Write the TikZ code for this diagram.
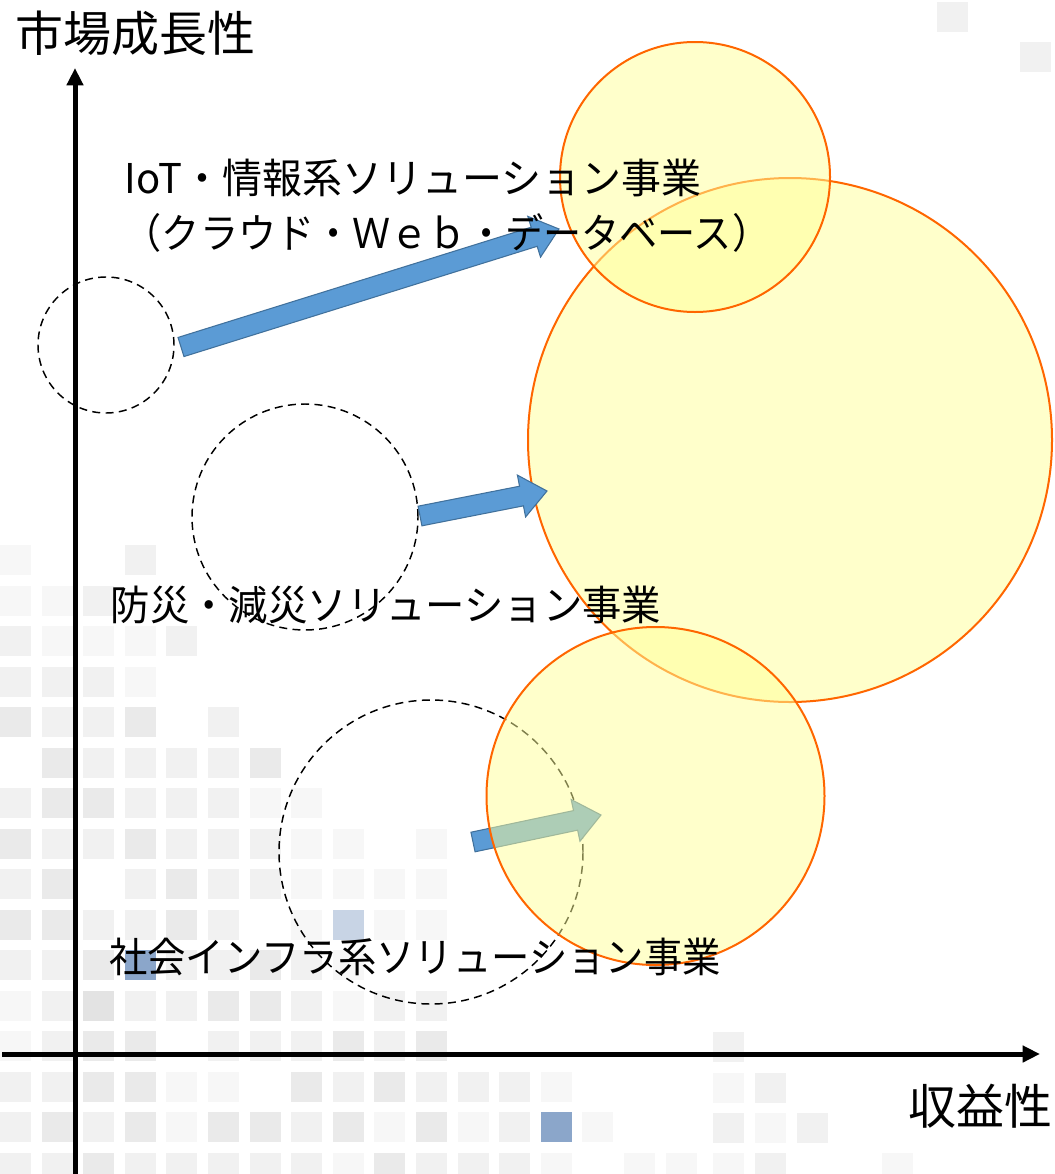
\documentclass[tikz,border=0pt]{standalone}
\usepackage{fontspec}
\usepackage{graphicx}
\newfontfamily\jp{Noto Sans CJK JP}
\usetikzlibrary{calc,arrows.meta}
\definecolor{g1}{HTML}{F7F7F7}
\definecolor{g2}{HTML}{F1F1F1}
\definecolor{g3}{HTML}{EAEAEA}
\definecolor{g4}{HTML}{E3E3E3}
\definecolor{b1}{HTML}{C8D4E5}
\definecolor{b2}{HTML}{8BA6CA}
\definecolor{arrfill}{HTML}{5B9BD5}
\definecolor{arrline}{HTML}{41719C}
\definecolor{circline}{HTML}{FF6600}
\definecolor{circfill}{HTML}{FFFF99}
\tikzset{
  axisline/.style={line width=3.75pt, -{Triangle[length=13pt,width=12pt]}},
  dashcirc/.style={circle, draw=black, line width=1.1pt, dash pattern=on 6pt off 4pt, inner sep=0pt, outer sep=0pt},
  yellowcirc/.style={circle, draw=circline, line width=1.5pt, fill=circfill, fill opacity=0.5, draw opacity=1, inner sep=0pt, outer sep=0pt},
  blockarrow/.style={fill=arrfill, draw=arrline, line width=0.8pt, line join=miter},
  label/.style={inner sep=0pt, outer sep=0pt, anchor=center, font=\jp\fontsize{30.75pt}{36pt}\selectfont},
  axislabel/.style={inner sep=0pt, outer sep=0pt, anchor=center, font=\jp\fontsize{36pt}{42pt}\selectfont}
}
\newcommand\blockarr[2]{%
  \coordinate (hb) at ($(#2)!19.5pt!(#1)$);
  \path[blockarrow] ($(#1)!7.5pt!90:(#2)$) -- ($(hb)!7.5pt!90:(#2)$) -- ($(hb)!16pt!90:(#2)$) -- (#2)
     -- ($(hb)!16pt!-90:(#2)$) -- ($(hb)!7.5pt!-90:(#2)$) -- ($(#1)!7.5pt!-90:(#2)$) -- cycle;
}
\begin{document}
\begin{tikzpicture}[x=0.75pt,y=-0.75pt]
\useasboundingbox (0,0) rectangle (1054,1174);
\fill[white] (0,0) rectangle (1054,1174);
% background squares
\foreach \k/\j/\c in {0/0/g1, 3/0/g2,
  0/1/g1, 1/1/g1, 2/1/g2,
  0/2/g2, 1/2/g1, 2/2/g1, 3/2/g1, 4/2/g2,
  0/3/g2, 1/3/g2, 2/3/g2, 3/3/g1,
  0/4/g3, 1/4/g2, 2/4/g2, 3/4/g3, 5/4/g2,
  1/5/g3, 2/5/g2, 3/5/g2, 4/5/g2, 5/5/g2, 6/5/g3,
  0/6/g2, 1/6/g3, 2/6/g3, 3/6/g2, 4/6/g2, 5/6/g2, 6/6/g1, 7/6/g1,
  0/7/g3, 1/7/g2, 2/7/g2, 3/7/g3, 4/7/g2, 5/7/g2, 6/7/g2, 7/7/g1, 8/7/g1, 10/7/g1,
  0/8/g2, 1/8/g3, 3/8/g2, 4/8/g3, 5/8/g2, 6/8/g2, 7/8/g1, 8/8/g1, 9/8/g1, 10/8/g1,
  0/9/g3, 1/9/g3, 2/9/g2, 3/9/g2, 4/9/g3, 5/9/g2, 7/9/g1, 8/9/b1, 9/9/g1, 10/9/g1,
  0/10/g2, 1/10/g2, 2/10/g3, 3/10/b2, 4/10/g2, 5/10/g2, 6/10/g3, 7/10/g2, 8/10/g1,
  0/11/g1, 1/11/g2, 2/11/g4, 3/11/g2, 4/11/g2, 5/11/g3, 6/11/g3, 7/11/g2, 8/11/g1, 9/11/g2, 10/11/g2,
  0/12/g1, 1/12/g2, 2/12/g3, 3/12/g3, 5/12/g2, 6/12/g2, 7/12/g2, 8/12/g3, 9/12/g2, 10/12/g3,
  0/13/g2, 1/13/g2, 2/13/g3, 3/13/g3, 4/13/g1, 5/13/g1, 7/13/g3, 8/13/g2, 9/13/g3, 10/13/g2, 11/13/g2, 12/13/g2, 13/13/g1,
  0/14/g2, 1/14/g3, 2/14/g2, 3/14/g3, 4/14/g1, 5/14/g3, 6/14/g3, 7/14/g2, 8/14/g3, 9/14/g1, 10/14/g3, 11/14/g1, 12/14/g2, 13/14/b2, 14/14/g1,
  0/15/g2, 1/15/g2, 2/15/g3, 3/15/g2, 4/15/g2, 5/15/g2, 6/15/g2, 7/15/g2, 8/15/g1, 9/15/g3, 10/15/g2, 11/15/g2, 12/15/g2, 13/15/g1, 15/15/g1, 16/15/g1}
  \fill[\c] ({41.6*\k},{545+40.5*\j}) rectangle +(31,30);
\foreach \x/\y/\c in {713/1032/g2, 713/1073/g1, 755/1073/g2, 713/1113/g2, 755/1113/g1, 797/1113/g2,
  713/1153/g1, 755/1153/g2, 882/1153/g1, 937/2/g2, 1020/42/g2}
  \fill[\c] (\x,\y) rectangle +(31,30);
% axes
\coordinate (O) at (75,1054);
\coordinate (ytop) at (75,68);
\coordinate (ybot) at (75,1174);
\coordinate (xl) at (2,1054);
\coordinate (xr) at (1040,1054);
\draw[axisline] (ybot) -- (ytop);
\draw[axisline] (xl) -- (xr);
% dashed circles (current position)
\node[dashcirc, minimum size=102pt] (dA) at (106,345) {};
\node[dashcirc, minimum size=169.5pt] (dB) at (305,517) {};
\node[dashcirc, minimum size=228pt] (dC) at (431,852) {};
% arrow end points
\coordinate (tA) at (181,347);
\coordinate (pA) at (559,229);
\coordinate (tB) at (420,516);
\coordinate (pB) at (547,491);
\coordinate (tC) at (473,842);
\coordinate (pC) at (601,815);
% big circle
\node[yellowcirc, minimum size=393pt] (yB) at (790,440) {};
\blockarr{tA}{pA}
\blockarr{tB}{pB}
\node[yellowcirc, minimum size=202.5pt] (yA) at (695,177) {};
\blockarr{tC}{pC}
\node[yellowcirc, minimum size=253.5pt] (yC) at (655.5,796) {};
% labels
\node[axislabel] (ylab) at (136,33) {市場成長性};
\node[axislabel] (xlab) at (980,1106) {収益性};
\node[label] (l1a) at (413,178) {\scalebox{0.975}[1]{IoT・情報系ソリューション事業}};
\node[label] (l1b) at (447,233) {\scalebox{0.93}[1]{（クラウド・Ｗｅｂ・データベース）}};
\node[label] (l2) at (386,605) {\scalebox{0.96}[1]{防災・減災ソリューション事業}};
\node[label] (l3) at (415,957) {\scalebox{0.935}[1]{社会インフラ系ソリューション事業}};
\end{tikzpicture}
\end{document}
